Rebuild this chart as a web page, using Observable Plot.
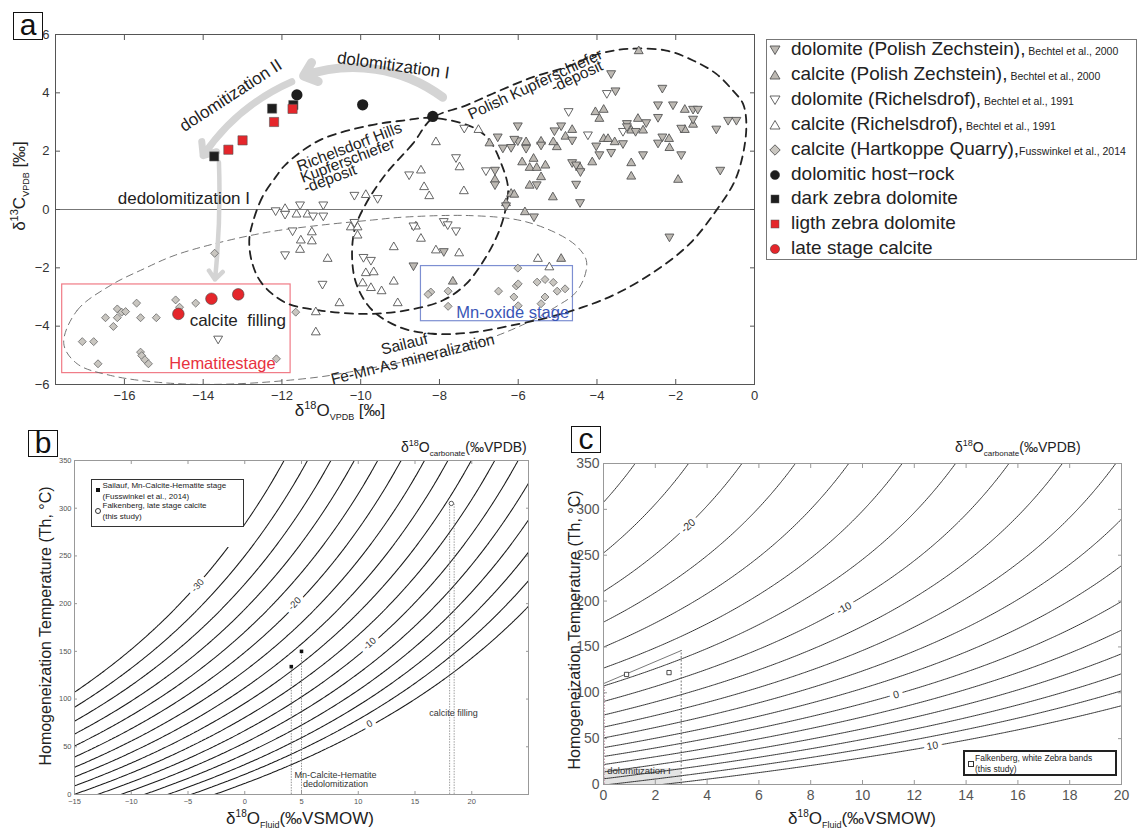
<!DOCTYPE html>
<html><head><meta charset="utf-8">
<script src="https://cdn.jsdelivr.net/npm/d3@7"></script>
<script src="https://cdn.jsdelivr.net/npm/@observablehq/plot@0.6"></script>
<style>
body{margin:0;background:#fff;font-family:"Liberation Sans",Arial,Helvetica,sans-serif;}
#fig{position:relative;width:1138px;height:832px;overflow:hidden;background:#fff;}
.lbl{position:absolute;white-space:nowrap;color:#222;line-height:1;}
.rot{transform:translate(-50%,-50%) rotate(-90deg);}
.ctr{transform:translate(-50%,-50%);}
.pbox{position:absolute;border:1.6px solid #111;box-sizing:border-box;text-align:center;color:#111;}
sub,sup{line-height:0;}
</style></head><body><div id="fig"></div>
<script>
// ---------------- Panel a data: [δ18O VPDB, δ13C VPDB] ----------------
const polishDolomite = [[-3.64,4.67],[-3.53,4.08],[-2.34,4.17],[-2.45,3.60],[-2.07,3.60],[-2.45,3.17],[-1.56,3.45],[-1.44,3.45],[-1.56,3.11],[-1.86,2.80],[-0.97,2.77],[-0.67,3.07],[-0.46,3.07],[-3.24,2.96],[-3.24,2.85],[-2.75,2.99],[-3.02,2.69],[-3.34,2.27],[-4.02,2.19],[-3.94,1.89],[-3.64,1.97],[-2.83,1.89],[-2.34,2.50],[-2.45,2.29],[-1.86,1.89],[-0.87,1.36],[-4.63,2.39],[-4.91,2.88],[-5.08,2.71],[-5.42,2.22],[-5.80,2.11],[-6.01,2.37],[-5.53,0.86],[-4.63,1.62],[-4.53,1.54],[-4.42,1.31],[-4.53,0.88],[-4.43,0.25],[-6.01,2.88],[-2.16,-0.93],[-5.60,-0.24],[-6.52,2.50],[-6.39,2.12],[-6.18,2.14],[-6.10,2.42],[-6.59,1.36],[-6.59,0.86],[-6.31,0.14],[-7.89,-1.43],[-8.66,-1.92]];
const polishCalcite = [[-2.94,5.43],[-4.04,3.34],[-3.83,3.42],[-3.94,3.11],[-1.77,3.42],[-1.56,2.91],[-1.77,2.73],[-2.96,3.11],[-3.13,2.71],[-2.83,2.71],[-3.55,2.31],[-3.83,2.42],[-3.72,2.42],[-2.17,2.42],[-2.16,2.11],[-3.13,1.59],[-3.13,1.13],[-1.94,1.02],[-4.63,2.73],[-4.80,2.50],[-5.02,2.14],[-5.11,2.31],[-5.42,2.33],[-5.80,2.31],[-5.90,1.62],[-5.61,1.74],[-5.71,1.43],[-5.53,1.43],[-5.31,1.51],[-5.42,1.11],[-5.71,0.82],[-5.12,0.42],[-4.43,1.43],[-4.12,1.62],[-5.83,-0.09],[-4.91,-1.69],[-6.73,2.27],[-6.59,1.02],[-6.18,0.54],[-6.31,0.22],[-6.10,0.51],[-7.66,-2.47]];
const richDolomite = [[-3.75,3.99],[-4.72,3.37],[-3.34,2.69],[-4.23,2.57],[-7.37,2.80],[-7.58,1.79],[-6.82,1.34],[-8.77,1.20],[-11.54,0.17],[-10.95,0.17],[-10.16,0.50],[-9.57,0.39],[-12.16,-0.03],[-11.92,-0.15],[-11.21,-0.21],[-10.95,-0.21],[-11.73,-0.72],[-10.97,-2.55],[-10.16,-0.43],[-9.93,-1.63],[-9.74,-1.73],[-11.92,-1.54],[-13.62,-4.43],[-8.66,-0.55],[-7.89,-0.40],[-7.79,-0.51],[-7.58,-0.72]];
const richCalcite = [[-7.01,2.73],[-8.09,2.31],[-7.49,1.45],[-8.47,1.34],[-8.39,0.77],[-8.26,0.46],[-7.38,0.63],[-9.87,0.50],[-11.92,0.02],[-11.63,-0.17],[-11.35,-0.17],[-11.52,-1.06],[-11.24,-0.78],[-11.24,-1.09],[-11.54,-1.38],[-10.84,-1.69],[-10.54,-3.21],[-11.14,-3.52],[-11.14,-4.21],[-10.25,-0.61],[-10.08,-0.61],[-10.08,-0.89],[-9.87,-2.18],[-9.95,-2.53],[-9.74,-2.69],[-8.60,-0.58],[-8.47,-1.00],[-9.16,-1.29],[-8.09,-1.40],[-7.50,-1.50],[-9.67,-2.15],[-9.16,-2.47],[-9.47,-2.80],[-9.06,-3.21],[-5.50,-1.69],[-5.21,-1.98]];
const hartkoppe = [[-13.71,-1.50],[-14.70,-3.10],[-14.19,-3.21],[-14.60,-3.35],[-15.69,-3.21],[-16.18,-3.41],[-16.07,-3.52],[-15.97,-3.50],[-16.48,-3.71],[-16.18,-3.71],[-16.28,-4.01],[-15.59,-3.71],[-15.19,-3.71],[-17.07,-4.53],[-16.78,-4.53],[-16.67,-5.29],[-15.59,-4.89],[-15.56,-5.01],[-15.48,-5.15],[-15.39,-5.29],[-12.14,-5.12],[-11.65,-3.52],[-8.22,-2.83],[-8.29,-2.91],[-7.78,-2.80],[-7.78,-3.32],[-6.50,-2.80],[-6.05,-2.62],[-6.00,-2.55],[-6.11,-3.00],[-6.00,-3.30],[-6.01,-2.01],[-5.52,-2.49],[-5.32,-2.40],[-5.11,-2.50],[-5.01,-2.80],[-4.81,-2.72],[-5.32,-3.00],[-5.42,-3.23]];
const hostRock = [[-11.62,3.93],[-9.95,3.59],[-8.17,3.19]];
const darkZebra = [[-11.71,3.58],[-12.25,3.46],[-13.72,1.82]];
const lightZebra = [[-11.73,3.45],[-12.20,3.00],[-13.00,2.37],[-13.36,2.05]];
const lateCalcite = [[-14.63,-3.58],[-13.79,-3.06],[-13.11,-2.91]];

// field outlines
const polishField = [[-8.17,3.14],[-8.68,2.25],[-9.36,1.22],[-9.87,0.19],[-10.16,-0.72],[-10.21,-1.86],[-10.08,-2.66],[-9.70,-3.46],[-9.02,-4.03],[-8.17,-4.26],[-7.15,-4.21],[-5.97,-3.92],[-5.21,-3.69],[-4.36,-3.35],[-3.51,-2.89],[-2.50,-2.09],[-1.65,-1.18],[-0.97,-0.03],[-0.46,1.11],[-0.21,2.71],[-0.29,3.62],[-0.55,4.08],[-0.97,4.65],[-1.56,5.11],[-2.24,5.45],[-3.17,5.51],[-3.94,5.34],[-4.78,4.88],[-5.63,4.54],[-6.65,3.97],[-7.32,3.57]];
const richelsdorfField = [[-12.16,1.11],[-12.50,0.42],[-12.75,-0.49],[-12.83,-1.06],[-12.75,-1.86],[-12.50,-2.55],[-11.90,-3.20],[-11.05,-3.46],[-9.87,-3.58],[-8.85,-3.46],[-7.92,-3.12],[-7.32,-2.55],[-6.82,-1.63],[-6.48,-0.72],[-6.31,0.08],[-6.26,0.77],[-6.43,1.57],[-6.73,2.37],[-7.15,2.82],[-8.17,3.14],[-8.93,3.05],[-9.78,2.88],[-11.05,2.37],[-11.90,1.55]];
const sailaufField = [[-17.54,-4.60],[-17.20,-3.46],[-16.35,-2.60],[-15.50,-2.03],[-14.74,-1.58],[-13.73,-1.18],[-12.37,-0.78],[-11.10,-0.55],[-9.70,-0.36],[-8.89,-0.26],[-7.20,-0.21],[-5.93,-0.38],[-5.00,-0.83],[-4.49,-1.29],[-4.27,-1.75],[-4.32,-2.32],[-4.57,-2.89],[-5.00,-3.30],[-5.80,-3.90],[-7.00,-4.55],[-8.50,-5.10],[-10.00,-5.50],[-11.10,-5.75],[-13.22,-5.98],[-14.91,-5.95],[-16.35,-5.69],[-17.20,-5.29]];
const hematiteBox = [{x1:-17.58, x2:-11.78, y1:-5.61, y2:-2.57}];
const mnOxideBox = [{x1:-8.47, x2:-4.61, y1:-3.83, y2:-1.94}];
const arrowDolI = [{x1:-7.92, y1:3.85, x2:-11.45, y2:4.58}];
const arrowDolII = [{x1:-11.75, y1:4.38, x2:-14.00, y2:1.85}];
const arrowDedol = [{x1:-13.60, y1:1.62, x2:-13.70, y2:-2.40}];
const ticksAx = [-16,-14,-12,-10,-8,-6,-4,-2,0];
const ticksAy = [-6,-4,-2,0,2,4,6];

// ---------------- Panels b, c ----------------
const vpdbSmow = [30.91, 1.03091];             // δ18O VSMOW = 1.03091·VPDB + 30.91
const calciteWater = [18.03e3, -32.42];        // 1000lnα = A/T + B (calcite-water)
const dolomiteWater = [3.14e6, -3.14];         // 1000lnα = A/T² + B (dolomite-water)
const levelsB = [-30,-28,-26,-24,-22,-20,-18,-16,-14,-12,-10,-8,-6,-4,-2,0];
const levelsC = [-24,-22,-20,-18,-16,-14,-12,-10,-8,-6,-4,-2,0,2,4,6,8,10];
const labelsB = [{x:-4.15,y:219,t:"-30",r:-48},{x:4.4,y:200,t:"-20",r:-46},{x:11.0,y:158,t:"-10",r:-41},{x:11.0,y:74,t:"0",r:-30}];
const labelsC = [{x:3.27,y:282,t:"-20",r:-42},{x:9.29,y:192,t:"-10",r:-29},{x:11.3,y:98,t:"0",r:-16},{x:12.7,y:42,t:"10",r:-10}];
const sailaufTh = [[4.1,134],[5.0,150]];
const falkenbergTh = [[18.2,305]];
const falkenbergRange = [18.05,18.45];
const zebraTh = [[0.89,120],[2.53,122]];
const dolomitizationTop = [[0,110],[3,146]];
const ticksBx = [-15,-10,-5,0,5,10,15,20];
const ticksBxMinor = [-15,-10,-5,0,5,10,15,20,25];
const ticksBy = [0,50,100,150,200,250,300,350];
const ticksCx = [0,2,4,6,8,10,12,14,16,18,20];
const ticksCy = [0,50,100,150,200,250,300,350];

const FONT = '"Liberation Sans", Arial, Helvetica, sans-serif';
const fig = document.getElementById("fig");
const X = d => d[0], Y = d => d[1];

function boxAxes(xt, yt, xl, yl, o) {
  const t = o.tick;
  return [
    Plot.axisX(xt, {anchor:"bottom", tickSize:t, dy:-t, tickFormat:()=>"", stroke:o.stroke, label:null}),
    Plot.axisX(xt, {anchor:"top", tickSize:t, dy:t, tickFormat:()=>"", stroke:o.stroke, label:null}),
    Plot.axisY(yt, {anchor:"left", tickSize:t, dx:t, tickFormat:()=>"", stroke:o.stroke, label:null}),
    Plot.axisY(yt, {anchor:"right", tickSize:t, dx:-t, tickFormat:()=>"", stroke:o.stroke, label:null}),
    Plot.axisX(xl, {anchor:"bottom", tickSize:0, tickPadding:o.xPad, fontSize:o.fontSize, fill:o.color, label:null}),
    Plot.axisY(yl, {anchor:"left", tickSize:0, tickPadding:o.yPad, fontSize:o.fontSize, fill:o.color, label:null}),
    Plot.frame({stroke:o.stroke, strokeWidth:o.frameWidth || 1})
  ];
}
function place(el, left, top) { el.style.position = "absolute"; el.style.left = left + "px"; el.style.top = top + "px"; fig.appendChild(el); }
function html(s, left, top, cls, style) { const d = document.createElement("div"); d.className = "lbl " + (cls||""); d.innerHTML = s; d.style.left = left+"px"; d.style.top = top+"px"; if (style) d.style.cssText += style; fig.appendChild(d); return d; }

// ---------------- Panel a ----------------
const txt = (x, y, text, o) => Plot.text([{x, y, text}], {x:"x", y:"y", text:"text", fontSize:17, fill:"#222", ...o});
const pa = Plot.plot({
  width:760, height:420, marginLeft:55, marginRight:6, marginTop:34, marginBottom:36,
  x:{domain:[-17.75,0], label:null}, y:{domain:[-6,6], label:null},
  style:{fontFamily:FONT, background:"white"},
  marks:[
    Plot.ruleY([0], {stroke:"#777", strokeWidth:1}),
    Plot.rect(hematiteBox, {x1:"x1", x2:"x2", y1:"y1", y2:"y2", fill:"none", stroke:"#f07a86", strokeWidth:1.2}),
    Plot.rect(mnOxideBox, {x1:"x1", x2:"x2", y1:"y1", y2:"y2", fill:"none", stroke:"#7d8fd2", strokeWidth:1.2}),
    Plot.line(sailaufField, {x:X, y:Y, curve:"catmull-rom-closed", stroke:"#666", strokeWidth:0.9, strokeDasharray:"7,5"}),
    Plot.line(richelsdorfField, {x:X, y:Y, curve:"catmull-rom-closed", stroke:"#222", strokeWidth:1.8, strokeDasharray:"8,6"}),
    Plot.line(polishField, {x:X, y:Y, curve:"catmull-rom-closed", stroke:"#222", strokeWidth:1.8, strokeDasharray:"8,6"}),
    Plot.arrow(arrowDolI, {x1:"x1", y1:"y1", x2:"x2", y2:"y2", bend:-28, stroke:"#d4d4d4", strokeWidth:9, headLength:2.6, headAngle:80}),
    Plot.arrow(arrowDolII, {x1:"x1", y1:"y1", x2:"x2", y2:"y2", bend:-16, stroke:"#d4d4d4", strokeWidth:7, headLength:3.0, headAngle:80}),
    Plot.arrow(arrowDedol, {x1:"x1", y1:"y1", x2:"x2", y2:"y2", bend:4, stroke:"#d4d4d4", strokeWidth:4.5, headLength:3.6, headAngle:80}),
    Plot.dot(richCalcite, {x:X, y:Y, symbol:"triangle", r:3.3, fill:"white", stroke:"#555", strokeWidth:0.9}),
    Plot.dot(richDolomite, {x:X, y:Y, symbol:"triangle", rotate:180, r:3.3, fill:"white", stroke:"#555", strokeWidth:0.9}),
    Plot.dot(polishCalcite, {x:X, y:Y, symbol:"triangle", r:3.3, fill:"#bdb9b3", stroke:"#555", strokeWidth:0.9}),
    Plot.dot(polishDolomite, {x:X, y:Y, symbol:"triangle", rotate:180, r:3.3, fill:"#bdb9b3", stroke:"#555", strokeWidth:0.9}),
    Plot.dot(hartkoppe, {x:X, y:Y, symbol:"diamond2", r:3.6, fill:"#c9c6c0", stroke:"#666", strokeWidth:0.8}),
    Plot.dot(hostRock, {x:X, y:Y, r:5.6, fill:"#1e1e1e"}),
    Plot.dot(darkZebra, {x:X, y:Y, symbol:"square", r:5.2, fill:"#1e1e1e", stroke:"#666", strokeWidth:0.6}),
    Plot.dot(lightZebra, {x:X, y:Y, symbol:"square", r:5.2, fill:"#e5262b", stroke:"#555", strokeWidth:0.6}),
    Plot.dot(lateCalcite, {x:X, y:Y, r:5.8, fill:"#e5262b", stroke:"#444", strokeWidth:0.6}),
    txt(-9.17, 4.94, "dolomitization I", {rotate:8}),
    txt(-13.30, 3.91, "dolomitization II", {rotate:-33}),
    txt(-14.49, 0.37, "dedolomitization I", {}),
    txt(-13.12, -3.80, "calcite  filling", {}),
    txt(-13.51, -5.29, "Hematitestage", {fill:"#e8323e", fontSize:16.5}),
    txt(-6.14, -3.55, "Mn-oxide stage", {fill:"#3a56b6", fontSize:16.5}),
    txt(-5.57, 4.29, "Polish Kupferschiefer", {rotate:-25, fontSize:15.5}),
    txt(-4.51, 4.56, "-deposit", {rotate:-25, fontSize:15.5}),
    txt(-10.29, 2.14, "Richelsdorf Hills", {rotate:-21, fontSize:15.5}),
    txt(-10.33, 1.68, "Kupferschiefer", {rotate:-21, fontSize:15.5}),
    txt(-10.78, 1.05, "-deposit", {rotate:-21, fontSize:15.5}),
    txt(-8.89, -4.62, "Sailauf", {rotate:-14, fontSize:15.5}),
    txt(-8.68, -5.14, "Fe-Mn-As mineralization", {rotate:-14, fontSize:15.5}),
    ...boxAxes(ticksAx, ticksAy, ticksAx, ticksAy, {tick:5, stroke:"#555", fontSize:13, color:"#333", xPad:6, yPad:6})
  ]
});
place(pa, 0, 0);

// panel a legend
const legendA = [
  {t:"dolomite (Polish Zechstein),", c:" Bechtel et al., 2000", s:"down", f:"#bdb9b3"},
  {t:"calcite (Polish Zechstein),", c:" Bechtel et al., 2000", s:"up", f:"#bdb9b3"},
  {t:"dolomite (Richelsdrof),", c:" Bechtel et al., 1991", s:"down", f:"#fff"},
  {t:"calcite (Richelsdrof),", c:" Bechtel et al., 1991", s:"up", f:"#fff"},
  {t:"calcite (Hartkoppe Quarry),", c:"Fusswinkel et al., 2014", s:"diamond", f:"#c9c6c0"},
  {t:"dolomitic host\u2212rock", c:"", s:"circle", f:"#1e1e1e"},
  {t:"dark zebra dolomite", c:"", s:"square", f:"#1e1e1e"},
  {t:"ligth zebra dolomite", c:"", s:"square", f:"#e5262b"},
  {t:"late stage calcite", c:"", s:"circle", f:"#e5262b"}
];
const legBox = document.createElement("div");
legBox.style.cssText = "width:371px;height:221px;border:1px solid #777;box-sizing:border-box;background:#fff;";
place(legBox, 766, 39);
const symSvg = (s, f) => {
  const st = `fill="${f}" stroke="#555" stroke-width="0.9"`;
  if (s === "down") return `<polygon points="2,3 12,3 7,11.5" ${st}/>`;
  if (s === "up") return `<polygon points="2,11 12,11 7,2.5" ${st}/>`;
  if (s === "diamond") return `<polygon points="7,1.8 12.2,7 7,12.2 1.8,7" ${st}/>`;
  if (s === "circle") return `<circle cx="7" cy="7" r="4.6" fill="${f}" stroke="#333" stroke-width="0.5"/>`;
  return `<rect x="3" y="3" width="8" height="8" fill="${f}" stroke="#555" stroke-width="0.5"/>`;
};
legendA.forEach((d, i) => {
  const cy = 50 + i * 24.9;
  html(`<svg width="14" height="14" style="position:absolute;left:0;top:-7px">${symSvg(d.s, d.f)}</svg><span style="position:absolute;left:23px;top:-11px;font-size:19px;white-space:nowrap">${d.t}<span style="font-size:10.5px">${d.c}</span></span>`, 768, cy);
});

// ---------------- Panel b ----------------
const [smowA, smowB] = vpdbSmow;
const calciteVPDB = (x, T) => (x + calciteWater[0] / (T + 273.15) + calciteWater[1] - smowA) / smowB;
const dolomiteVPDB = (x, T) => (x + dolomiteWater[0] / ((T + 273.15) ** 2) + dolomiteWater[1] - smowA) / smowB;

const pb = Plot.plot({
  width:560, height:412, marginLeft:74, marginRight:32, marginTop:40, marginBottom:38,
  x:{domain:[-15,25], label:null}, y:{domain:[0,350], label:null},
  style:{fontFamily:FONT, background:"white"},
  marks:[
    Plot.contour({value:calciteVPDB, x1:-16, x2:26, y1:-10, y2:362, thresholds:levelsB, fill:"none", stroke:"#1a1a1a", strokeWidth:1.05, clip:true}),
    Plot.ruleX(sailaufTh, {x:X, y1:0, y2:Y, stroke:"#666", strokeWidth:0.7, strokeDasharray:"1.5,1.2"}),
    Plot.ruleX(falkenbergRange, {x:d=>d, y1:0, y2:falkenbergTh[0][1], stroke:"#777", strokeWidth:0.7, strokeDasharray:"1.5,1.2"}),
    Plot.dot(sailaufTh, {x:X, y:Y, symbol:"square", r:2, fill:"#111"}),
    Plot.dot(falkenbergTh, {x:X, y:Y, r:2.2, fill:"white", stroke:"#333", strokeWidth:0.8}),
    Plot.text(labelsB, {x:"x", y:"y", text:"t", rotate:"r", fontSize:9.5, fill:"#333", stroke:"white", strokeWidth:8}),
    Plot.text(["calcite filling"], {x:18.4, y:85, text:d=>d, fontSize:9, fill:"#333"}),
    Plot.text(["Mn-Calcite-Hematite", "dedolomitization"], {x:8.0, y:(d,i)=>[20,11][i], text:d=>d, fontSize:9, fill:"#333"}),
    ...boxAxes(ticksBxMinor, ticksBy, ticksBx, ticksBy, {tick:3, stroke:"#999", fontSize:7.5, color:"#555", xPad:4, yPad:3})
  ]
});
place(pb, 0, 420);

// panel b legend
const wb = document.createElement("div"); wb.style.cssText = "width:153px;height:68px;background:#fff;"; place(wb, 90.5, 479);
const lb = document.createElement("div"); lb.style.cssText = "width:153px;height:48px;border:1px solid #333;box-sizing:border-box;background:#fff;font-size:8px;color:#222;line-height:1;"; place(lb, 90.5, 479);
lb.innerHTML = `<div style="position:absolute;left:4px;top:8px;width:4px;height:4px;background:#111"></div>
<div style="position:absolute;left:11px;top:2px;white-space:nowrap">Sailauf, Mn-Calcite-Hematite stage</div>
<div style="position:absolute;left:11px;top:12.5px;white-space:nowrap">(Fusswinkel et al., 2014)</div>
<div style="position:absolute;left:3.5px;top:28px;width:4px;height:4px;border:0.8px solid #333;border-radius:50%"></div>
<div style="position:absolute;left:11px;top:22px;white-space:nowrap">Falkenberg, late stage calcite</div>
<div style="position:absolute;left:11px;top:33px;white-space:nowrap">(this study)</div>`;

// ---------------- Panel c ----------------
const pc = Plot.plot({
  width:578, height:412, marginLeft:43, marginRight:17, marginTop:43, marginBottom:48,
  x:{domain:[0,20], label:null}, y:{domain:[0,350], label:null},
  style:{fontFamily:FONT, background:"white"},
  marks:[
    Plot.rect([{x1:0, x2:3, y1:0, y2:17}], {x1:"x1", x2:"x2", y1:"y1", y2:"y2", fill:"#e4e4e4"}),
    Plot.contour({value:dolomiteVPDB, x1:-1, x2:21, y1:-10, y2:362, thresholds:levelsC, fill:"none", stroke:"#2a2a2a", strokeWidth:0.95, clip:true}),
    Plot.ruleX([3], {y1:0, y2:146, stroke:"#555", strokeWidth:0.8, strokeDasharray:"2,1.5"}),
    Plot.ruleX([0.04], {y1:0, y2:108, stroke:"#c9a3b3", strokeWidth:1, strokeDasharray:"1.5,1.5"}),
    Plot.line(dolomitizationTop, {x:X, y:Y, stroke:"#555", strokeWidth:0.8}),
    Plot.text(["dolomitization I"], {x:1.37, y:14.5, text:d=>d, fontSize:9.5, fill:"#333"}),
    Plot.dot(zebraTh, {x:X, y:Y, symbol:"square", r:2.4, fill:"white", stroke:"#222", strokeWidth:0.8}),
    Plot.text(labelsC, {x:"x", y:"y", text:"t", rotate:"r", fontSize:10.5, fill:"#333", stroke:"white", strokeWidth:8}),
    ...boxAxes(ticksCx, ticksCy, ticksCx, ticksCy, {tick:4, stroke:"#999", fontSize:14, color:"#555", xPad:6, yPad:4})
  ]
});
place(pc, 560, 420);

// panel c legend
const lc = document.createElement("div"); lc.style.cssText = "width:154px;height:26px;border:2px solid #222;box-sizing:border-box;background:#fff;font-size:8.5px;color:#222;line-height:1;"; place(lc, 963, 750);
lc.innerHTML = `<div style="position:absolute;left:3px;top:9px;width:4px;height:4px;border:0.8px solid #333"></div>
<div style="position:absolute;left:10px;top:2px;white-space:nowrap">Falkenberg, white Zebra bands</div>
<div style="position:absolute;left:10px;top:13px;white-space:nowrap">(this study)</div>`;

// ---------------- titles & panel letters ----------------
const a = html("a", 13, 12, "", ""); a.className = "pbox"; a.style.cssText += "width:30px;height:28px;font-size:30px;line-height:24px;";
const b = html("b", 28, 430, "", ""); b.className = "pbox"; b.style.cssText += "width:30px;height:27px;font-size:30px;line-height:24px;";
const c = html("c", 571, 426, "", ""); c.className = "pbox"; c.style.cssText += "width:30px;height:27px;font-size:30px;line-height:23px;";

html("&delta;<sup style='font-size:11px'>13</sup>C<sub style='font-size:9px'>VPDB</sub> [&permil;]", 19, 186, "rot", "font-size:17px;");
html("&delta;<sup style='font-size:11px'>18</sup>O<sub style='font-size:9px'>VPDB</sub> [&permil;]", 340, 410, "ctr", "font-size:17px;");

html("Homogeneization Temperature (Th, &deg;C)", 46, 626, "rot", "font-size:16px;");
html("&delta;<sup style='font-size:10px'>18</sup>O<sub style='font-size:9px'>Fluid</sub>(&permil;VSMOW)", 300, 818, "ctr", "font-size:17px;");
html("&delta;<sup style='font-size:9px'>18</sup>O<sub style='font-size:8px'>carbonate</sub>(&permil;VPDB)", 401, 440, "", "font-size:14px;");

html("Homogeneization Temperature (Th, &deg;C)", 575, 630, "rot", "font-size:16px;");
html("&delta;<sup style='font-size:10px'>18</sup>O<sub style='font-size:9px'>Fluid</sub>(&permil;VSMOW)", 862, 818, "ctr", "font-size:17px;");
html("&delta;<sup style='font-size:9px'>18</sup>O<sub style='font-size:8px'>carbonate</sub>(&permil;VPDB)", 955, 440, "", "font-size:14px;");
</script></body></html>
